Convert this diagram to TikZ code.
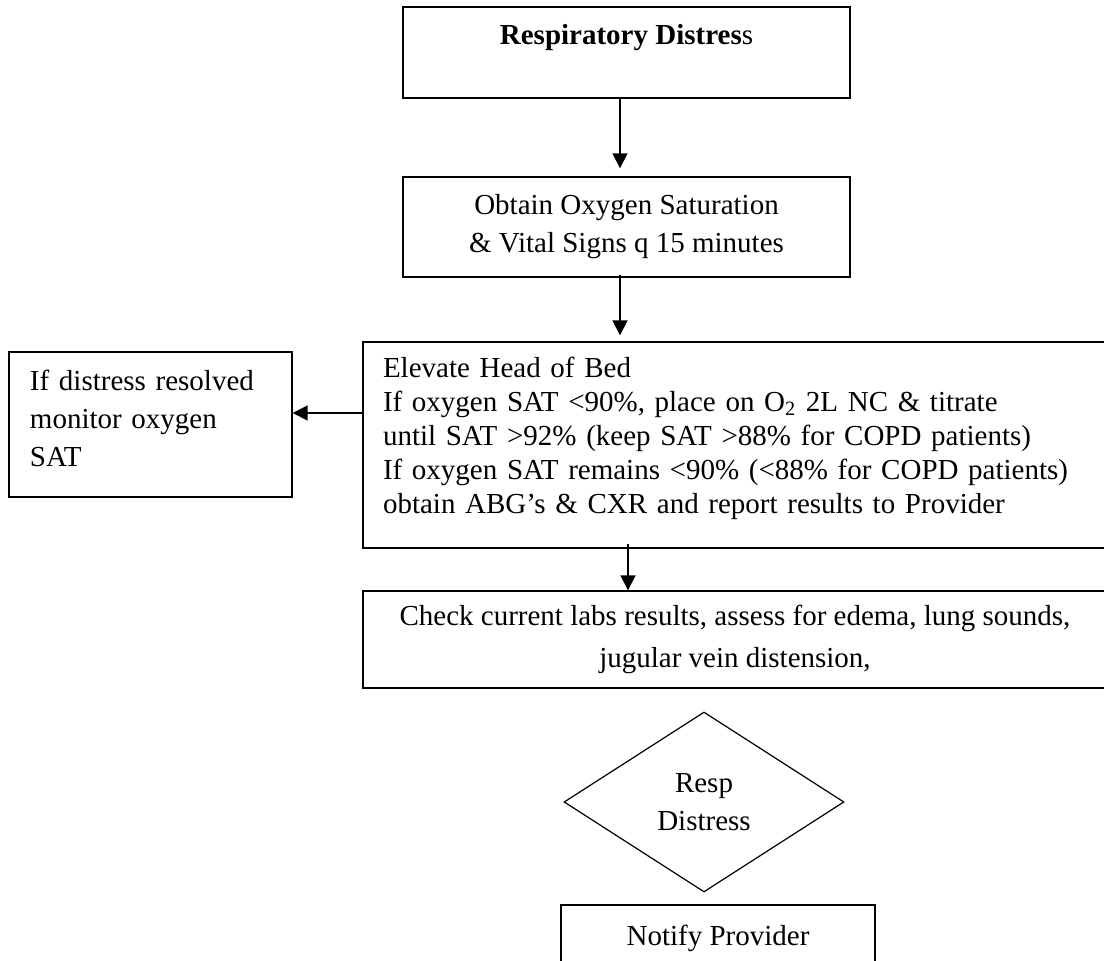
\documentclass[tikz,border=0pt]{standalone}
\usepackage{fontspec}
\setmainfont{Liberation Serif}
\usetikzlibrary{arrows.meta,shapes.geometric}

\begin{document}
\begin{tikzpicture}[
  action/.style={rectangle,draw=black,line width=0.7pt,align=center,inner sep=0pt,
    font=\fontsize{14.5}{19}\selectfont},
  action2/.style={action,align=left,font=\fontsize{14.5}{17}\selectfont},
  decision/.style={diamond,draw=black,line width=0.6pt,aspect=1.55,inner sep=0pt,align=center,
    font=\fontsize{14.5}{19}\selectfont,minimum width=140pt,minimum height=90pt},
  flow/.style={line width=0.9pt,-{Triangle[length=7.5pt,width=7.5pt]}},
  x=0.5pt,y=-0.5pt
]

\useasboundingbox (0,0) rectangle (1104,961);
\clip (0,0) rectangle (1104,961);

\node[action,minimum width=223.5pt,minimum height=45.5pt] (resp) at (626.5,52.5)
  {\textbf{Respiratory Distres}s\\[-1pt]\mbox{}};
\node[action,minimum width=223.5pt,minimum height=50pt] (obtain) at (626.5,227)
  {Obtain Oxygen Saturation\\ \& Vital Signs q 15 minutes};
\node[action2,text width=352pt,minimum width=372pt,minimum height=103pt] (elevate) at (735,445)
  {Elevate Head of Bed\\
   If oxygen SAT <90\%, place on O\textsubscript{2} 2L NC \& titrate\\
   until SAT >92\% (keep SAT >88\% for COPD patients)\\
   If oxygen SAT remains <90\% (<88\% for COPD patients)\\
   obtain ABG's \& CXR and report results to Provider\\[-7pt]\mbox{}};
\node[action,align=left,text width=120.5pt,minimum width=141.5pt,minimum height=72.5pt] (resolved) at (150.5,424.5)
  {If distress resolved\\ monitor oxygen\\ SAT\\[-13pt]\mbox{}};
\node[action,minimum width=372pt,minimum height=48.5pt] (check) at (735,639.5)
  {Check current labs results, assess for edema, lung sounds,\\[2pt] jugular vein distension,};
\node[decision] (decide) at (704,802) {Resp\\ Distress};
\node[action,minimum width=157pt,minimum height=33pt] (notify) at (718,938) {Notify Provider};

% connectors
\draw[flow,shorten >=4pt] ([xshift=-3.25pt]resp.south) -- ([xshift=-3.25pt]obtain.north);
\draw[flow,shorten >=3pt] ([xshift=-3.25pt,yshift=1.5pt]obtain.south) -- ([xshift=-57.5pt]elevate.north);
\draw[flow] ([xshift=-53.5pt,yshift=2.5pt]elevate.south) -- ([xshift=-53.5pt]check.north);
\draw[flow] ([yshift=16pt]elevate.west) -- ([yshift=5.75pt]resolved.east);

\end{tikzpicture}
\end{document}
